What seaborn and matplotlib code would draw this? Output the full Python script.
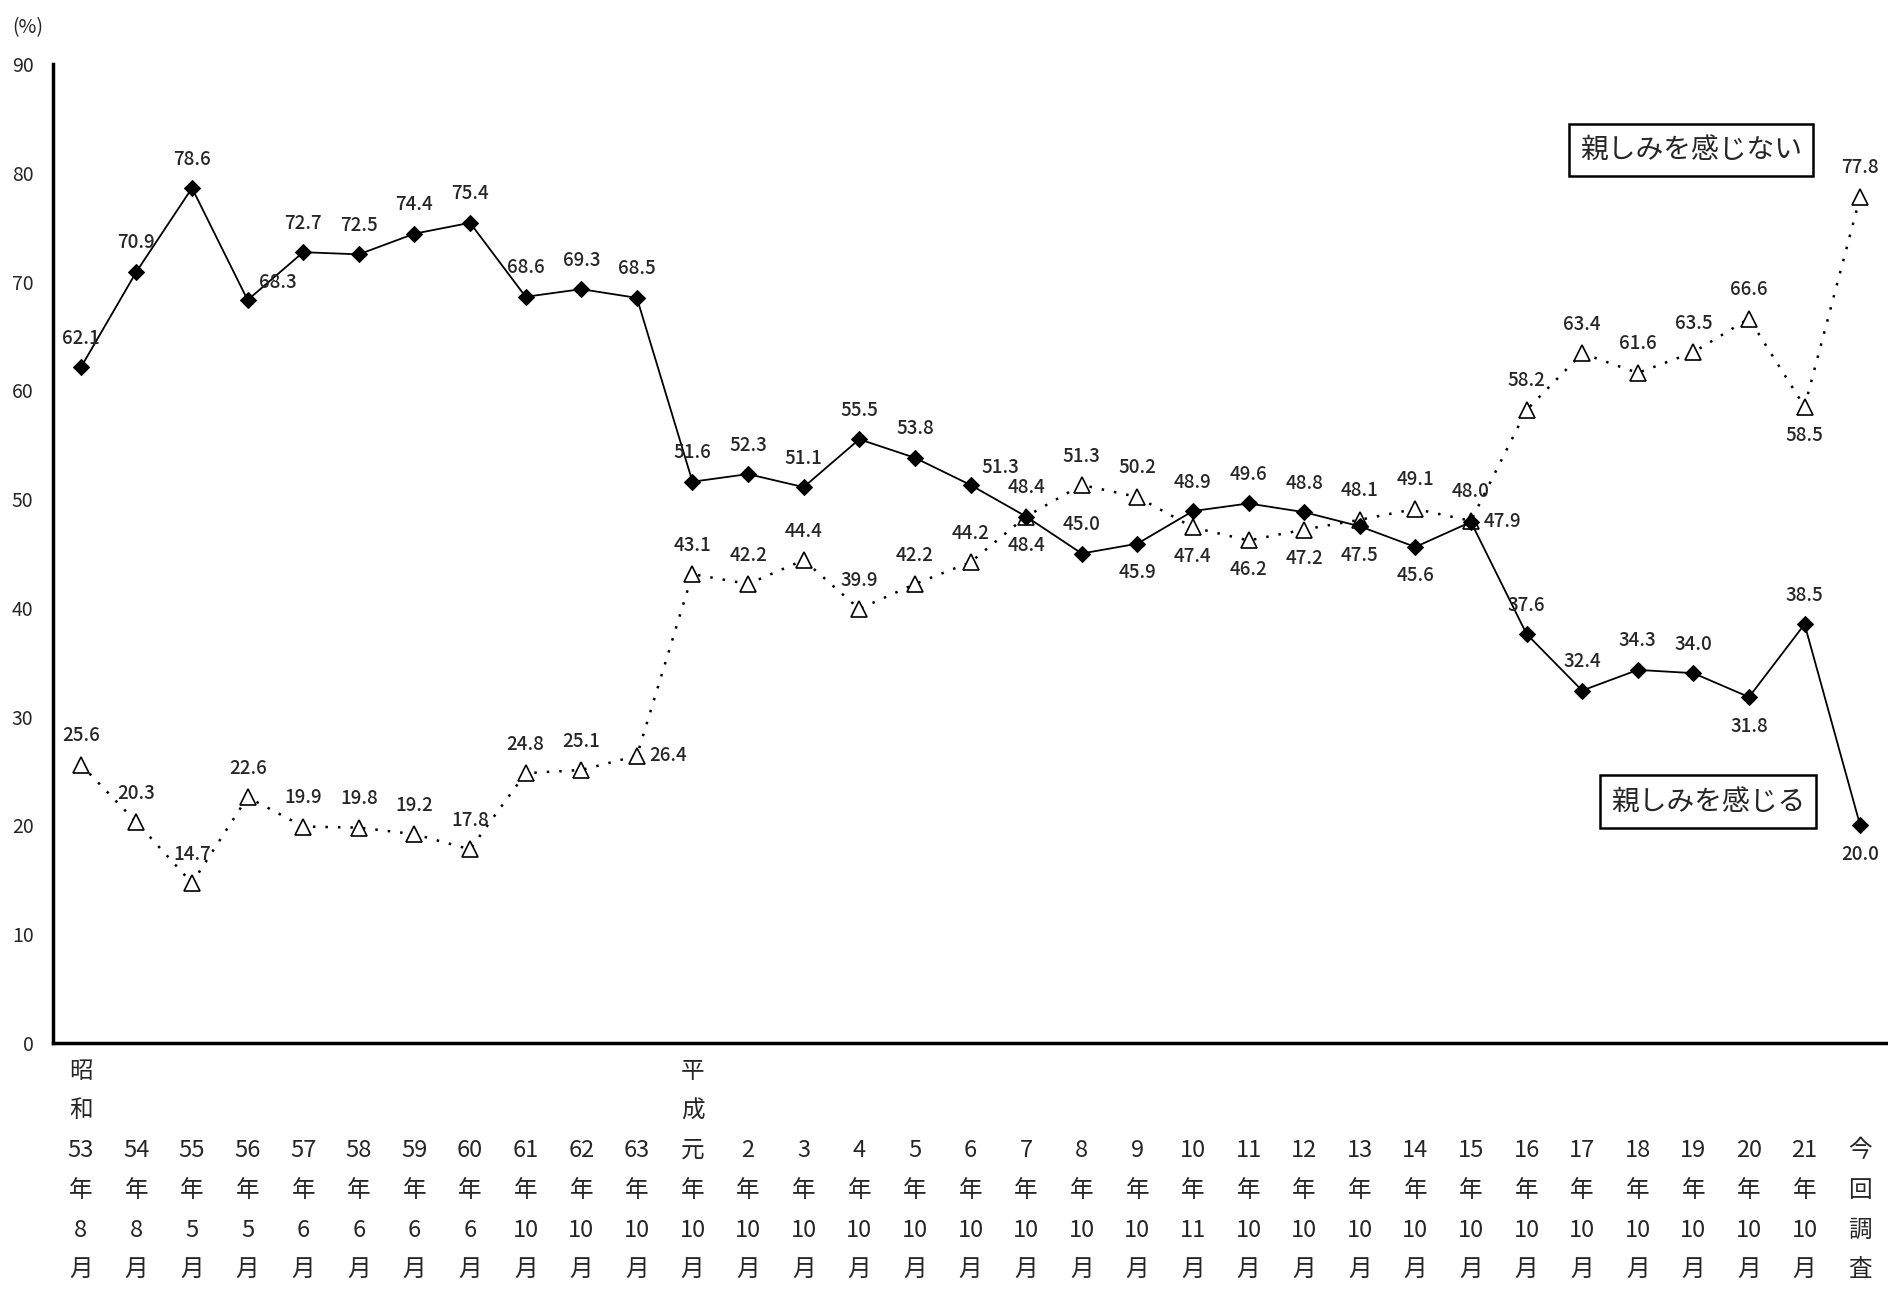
import seaborn as sns
import matplotlib.pyplot as plt
import numpy as np
import pandas as pd

sns.set_style('white')
plt.rcParams['font.family'] = ['Noto Sans CJK JP', 'DejaVu Sans']

# survey periods (era prefix, year, month)
era = ['昭和'] + [''] * 10 + ['平成'] + [''] * 21
years = ['53', '54', '55', '56', '57', '58', '59', '60', '61', '62', '63',
         '元', '2', '3', '4', '5', '6', '7', '8', '9', '10', '11', '12', '13',
         '14', '15', '16', '17', '18', '19', '20', '21', '今']
months = ['8', '8', '5', '5', '6', '6', '6', '6', '10', '10', '10',
          '10', '10', '10', '10', '10', '10', '10', '10', '10', '11', '10', '10', '10',
          '10', '10', '10', '10', '10', '10', '10', '10', '']

close = [62.1, 70.9, 78.6, 68.3, 72.7, 72.5, 74.4, 75.4, 68.6, 69.3, 68.5,
         51.6, 52.3, 51.1, 55.5, 53.8, 51.3, 48.4, 45.0, 45.9, 48.9, 49.6,
         48.8, 47.5, 45.6, 47.9, 37.6, 32.4, 34.3, 34.0, 31.8, 38.5, 20.0]
not_close = [25.6, 20.3, 14.7, 22.6, 19.9, 19.8, 19.2, 17.8, 24.8, 25.1, 26.4,
             43.1, 42.2, 44.4, 39.9, 42.2, 44.2, 48.4, 51.3, 50.2, 47.4, 46.2,
             47.2, 48.1, 49.1, 48.0, 58.2, 63.4, 61.6, 63.5, 66.6, 58.5, 77.8]

# where each value label sits: a=above, b=below, r=right, ar=above right
close_pos = ['a'] * 3 + ['ar'] + ['a'] * 12 + ['ar', 'b', 'a', 'b', 'a', 'a', 'a', 'b', 'b', 'r',
                                               'a', 'a', 'a', 'a', 'b', 'a', 'b']
not_close_pos = ['a'] * 10 + ['r'] + ['a'] * 9 + ['b', 'b', 'b', 'a', 'a', 'a',
                                                  'a', 'a', 'a', 'a', 'a', 'b', 'a']


def tick_label(e, y, m):
    if y == '今':
        return '\n\n今\n回\n調\n査'
    head = '\n'.join(e) if e else '\n'
    return head + '\n' + y + '\n年\n' + m + '\n月'


labels = [tick_label(e, y, m) for e, y, m in zip(era, years, months)]

df = pd.DataFrame({'x': np.arange(len(close)), 'close': close, 'not_close': not_close})

fig = plt.figure(figsize=(18.88, 13), dpi=100)
ax = fig.add_axes([53 / 1888, 1 - 1043 / 1300, 1 - 53 / 1888, (1043 - 64) / 1300])

sns.lineplot(data=df, x='x', y='not_close', ax=ax, color='black', linewidth=1.8,
             linestyle=(0, (1, 4)), marker='^', markersize=11,
             markerfacecolor='white', markeredgecolor='black', markeredgewidth=1.2)
sns.lineplot(data=df, x='x', y='close', ax=ax, color='black', linewidth=1.3,
             marker='D', markersize=8, markerfacecolor='black', markeredgecolor='black')

offsets = {'a': ((0, 14), 'center', 'bottom'),
           'b': ((0, -14), 'center', 'top'),
           'r': ((9, 0), 'left', 'center'),
           'ar': ((8, 6), 'left', 'bottom')}

for series, pos in ((close, close_pos), (not_close, not_close_pos)):
    for i, (v, p) in enumerate(zip(series, pos)):
        off, ha, va = offsets[p]
        ax.annotate(f'{v:.1f}', (i, v), xytext=off, textcoords='offset points',
                    ha=ha, va=va, fontsize=13.5, fontweight='medium', annotation_clip=False)

ax.text(28.96, 82.1, '親しみを感じない', ha='center', va='center', fontsize=20,
        bbox=dict(boxstyle='square,pad=0.4', fc='white', ec='black', lw=1.8))
ax.text(29.26, 22.2, '親しみを感じる', ha='center', va='center', fontsize=20,
        bbox=dict(boxstyle='square,pad=0.4', fc='white', ec='black', lw=1.8))

ax.set_xlim(-0.5, len(close) - 0.5)
ax.set_ylim(0, 90)
ax.set_yticks(range(0, 91, 10))
ax.set_xticks(df['x'])
ax.set_xticklabels(labels, fontsize=17, linespacing=1.93, va='top')
ax.set_xticks(np.arange(0.5, len(close) - 1, 1), minor=True)
ax.tick_params(axis='x', which='major', length=0, pad=12)
ax.tick_params(axis='x', which='minor', direction='in', length=7, width=1.5, color='black')
ax.tick_params(axis='y', direction='out', length=6, width=1.5, color='black',
               labelsize=14, pad=8)
ax.set_xlabel('')
ax.set_ylabel('')
for s in ['top', 'right']:
    ax.spines[s].set_visible(False)
for s in ['left', 'bottom']:
    ax.spines[s].set_linewidth(2.5)
    ax.spines[s].set_color('black')

fig.text(28 / 1888, 1 - 28 / 1300, '(%)', fontsize=14, ha='center', va='center')

plt.savefig('out.png', dpi=100)
